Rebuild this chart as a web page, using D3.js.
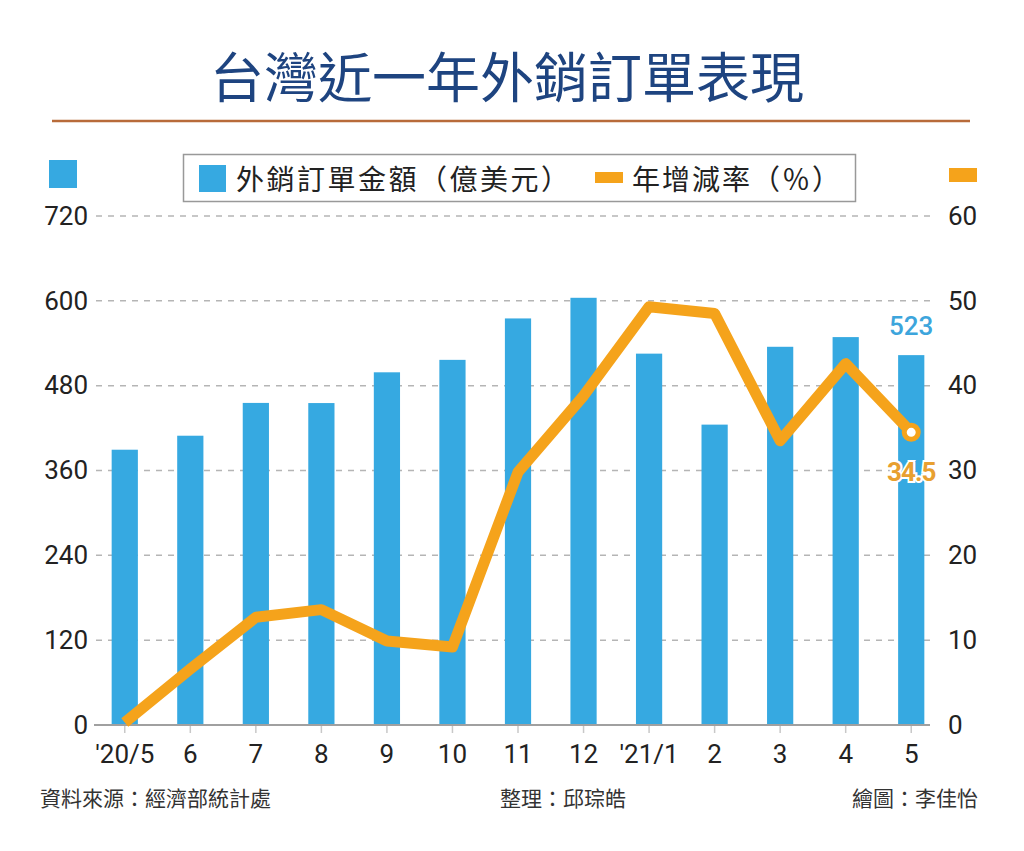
<!DOCTYPE html>
<html><head><meta charset="utf-8">
<script src="https://cdn.jsdelivr.net/npm/d3@7"></script>
<style>
html,body{margin:0;padding:0;background:#fff;}
svg{display:block;}
</style></head>
<body>
<svg id="c" width="1024" height="851"></svg>
<script>
const categories = ["'20/5","6","7","8","9","10","11","12","'21/1","2","3","4","5"];
const orders = [389.4, 409.2, 455.6, 455.4, 498.9, 516.5, 575.1, 604.3, 525.3, 424.9, 535.0, 548.7, 523.2];
const growth = [0.3, 6.6, 12.7, 13.6, 9.9, 9.2, 29.8, 38.8, 49.3, 48.5, 33.5, 42.6, 34.5];
const leftTicks = [0,120,240,360,480,600,720];
const rightTicks = [0,10,20,30,40,50,60];

const title = "台灣近一年外銷訂單表現";
const legendBar = "外銷訂單金額（億美元）";
const legendLine = "年增減率（％）";
const footerLeft = "資料來源：經濟部統計處";
const footerMid = "整理：邱琮皓";
const footerRight = "繪圖：李佳怡";

const BLUE = "#36a9e1", ORANGE = "#f5a31b";
const NUM = "Roboto, 'Liberation Sans', sans-serif";
const CJK = "'Noto Sans CJK TC', 'Noto Sans CJK SC', sans-serif";

const svg = d3.select("#c");

const x = d3.scaleBand().domain(categories).range([92, 944]).paddingInner(0.6).paddingOuter(0.3);
const yL = d3.scaleLinear().domain([0,720]).range([725,216]);
const yR = d3.scaleLinear().domain([0,60]).range([725,216]);
const cx = d => x(d) + x.bandwidth()/2;

// title
svg.append("text").attr("x",507).attr("y",98).attr("text-anchor","middle")
  .attr("font-family",CJK).attr("font-size",54).attr("font-weight",400)
  .attr("fill","#1e4480").text(title);
svg.append("line").attr("x1",52).attr("x2",970).attr("y1",121).attr("y2",121)
  .attr("stroke","#b86b3a").attr("stroke-width",2.5);

// corner markers
svg.append("rect").attr("x",49).attr("y",160).attr("width",28).attr("height",28).attr("fill",BLUE);
svg.append("rect").attr("x",949).attr("y",168).attr("width",28).attr("height",14).attr("fill",ORANGE);

// legend
svg.append("rect").attr("x",183.5).attr("y",154.5).attr("width",672).attr("height",47)
  .attr("fill","#fff").attr("stroke","#999").attr("stroke-width",1.5);
svg.append("rect").attr("x",199).attr("y",165).attr("width",27).attr("height",27).attr("fill",BLUE);
svg.append("text").attr("x",236).attr("y",190).attr("font-family",CJK).attr("font-size",28)
  .attr("letter-spacing",2.5).attr("fill","#222").text(legendBar);
svg.append("rect").attr("x",595).attr("y",172).attr("width",28).attr("height",11).attr("fill",ORANGE);
svg.append("text").attr("x",632).attr("y",190).attr("font-family",CJK).attr("font-size",28)
  .attr("letter-spacing",2).attr("fill","#222").text(legendLine);

// gridlines
const grid = svg.append("g");
leftTicks.filter(t=>t>0).forEach(t=>{
  grid.append("line").attr("x1",96).attr("x2",930).attr("y1",yL(t)).attr("y2",yL(t))
    .attr("stroke","#b5b5b5").attr("stroke-width",1.5).attr("stroke-dasharray","6,6");
});

// left axis labels
const axL = svg.append("g").attr("transform","translate(92,0)")
  .call(d3.axisLeft(yL).tickValues(leftTicks).tickSize(0).tickPadding(4));
axL.select(".domain").remove();
axL.selectAll("text").attr("font-family",NUM).attr("font-size",26).attr("fill","#222");

const axR = svg.append("g").attr("transform","translate(944,0)")
  .call(d3.axisRight(yR).tickValues(rightTicks).tickSize(0).tickPadding(4));
axR.select(".domain").remove();
axR.selectAll("text").attr("font-family",NUM).attr("font-size",26).attr("fill","#222");

// bars
svg.append("g").selectAll("rect").data(categories).join("rect")
  .attr("x",d=>x(d)).attr("width",x.bandwidth())
  .attr("y",(d,i)=>yL(orders[i])).attr("height",(d,i)=>yL(0)-yL(orders[i]))
  .attr("fill",BLUE);

// baseline
svg.append("line").attr("x1",94).attr("x2",930).attr("y1",yL(0)).attr("y2",yL(0))
  .attr("stroke","#a0a0a0").attr("stroke-width",2);

// x axis
const axB = svg.append("g").attr("transform",`translate(0,${yL(0)+1})`)
  .call(d3.axisBottom(x).tickSize(7).tickPadding(12));
axB.select(".domain").remove();
axB.selectAll(".tick line").attr("stroke","#c8c8c8").attr("stroke-width",1.5);
axB.selectAll("text").attr("font-family",NUM).attr("font-size",26).attr("fill","#222");

// line
const line = d3.line().x((d,i)=>cx(categories[i])).y(d=>yR(d));
svg.append("path").datum(growth).attr("d",line).attr("fill","none")
  .attr("stroke",ORANGE).attr("stroke-width",11).attr("stroke-linejoin","round").attr("stroke-linecap","butt");

const last = categories.length-1;
svg.append("circle").attr("cx",cx(categories[last])).attr("cy",yR(growth[last])).attr("r",7)
  .attr("fill","#fff").attr("stroke",ORANGE).attr("stroke-width",5);

// value labels
svg.append("text").attr("x",cx(categories[last])).attr("y",yL(orders[last])-20)
  .attr("text-anchor","middle").attr("font-family",NUM).attr("font-size",26).attr("font-weight",500)
  .attr("fill","#3da5dc").text(d3.format(".0f")(orders[last]));
svg.append("text").attr("x",cx(categories[last])).attr("y",yR(growth[last])+49)
  .attr("text-anchor","middle").attr("font-family",NUM).attr("font-size",26).attr("font-weight",700)
  .attr("fill","#e8a030").attr("stroke","#fff").attr("stroke-width",4).attr("paint-order","stroke")
  .attr("letter-spacing",-1).text(growth[last]);

// footer
const foot = svg.append("g").attr("font-family",CJK).attr("font-size",21).attr("fill","#333");
foot.append("text").attr("x",40).attr("y",806).text(footerLeft);
foot.append("text").attr("x",500).attr("y",806).text(footerMid);
foot.append("text").attr("x",978).attr("y",806).attr("text-anchor","end").text(footerRight);
</script>
</body></html>
